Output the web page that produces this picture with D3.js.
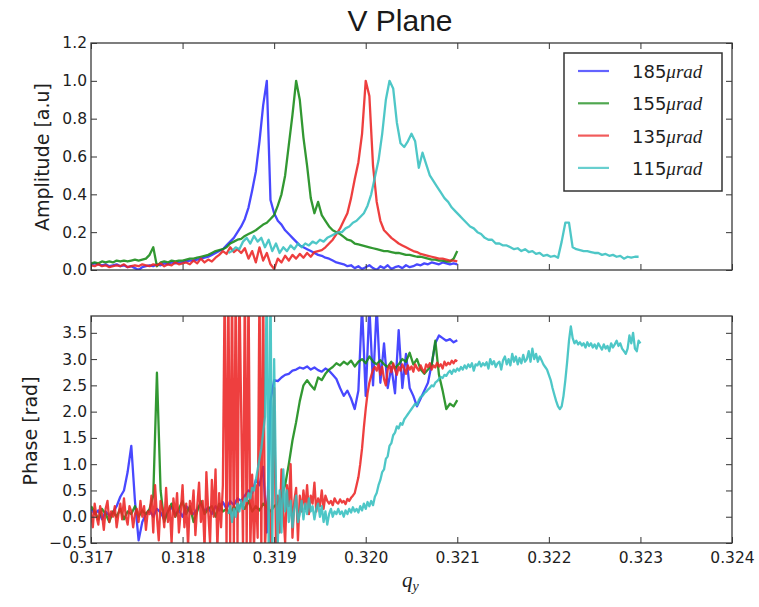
<!DOCTYPE html>
<html>
<head>
<meta charset="utf-8">
<script src="https://cdn.jsdelivr.net/npm/d3@7"></script>
<style>
  body { margin: 0; background: #fff; }
  svg { display: block; }
</style>
</head>
<body>
<svg id="chart" width="759" height="607"></svg>
<script>
// ---- data -------------------------------------------------------------
const seriesLabels = ["185", "155", "135", "115"];
const seriesColors = ["#2f2fff", "#168a16", "#ec2424", "#36bfbf"];

const xTicks = [0.317, 0.318, 0.319, 0.320, 0.321, 0.322, 0.323, 0.324];
const ampTicks = [0.0, 0.2, 0.4, 0.6, 0.8, 1.0, 1.2];
const phaseTicks = [-0.5, 0.0, 0.5, 1.0, 1.5, 2.0, 2.5, 3.0, 3.5];

// sampling of each trace along q_y: first sample and spacing
const ampStart = [0.317, 0.317, 0.317, 0.3185];
const ampStep = [0.00004, 0.00004, 0.00004, 0.00004];
const phaseStart = [0.317, 0.317, 0.317, 0.3185];
const phaseStep = [0.00004, 0.00004, 0.00002, 0.00002];

// amplitude [a.u]
const ampBlue = [
  0.03, 0.035, 0.03, 0.025, 0.03, 0.02, 0.025, 0.03, 0.02, 0.025, 0.015, 0.02, 0.01, 0.0, 0.015, 0.02, 0.025, 0.02, 0.03, 0.025, 0.035, 0.03, 0.04, 0.035, 0.04,
  0.04, 0.045, 0.05, 0.05, 0.055, 0.06, 0.065, 0.07, 0.08, 0.09, 0.1, 0.11, 0.13, 0.15, 0.17, 0.2, 0.23, 0.27, 0.33,
  0.42, 0.52, 0.68, 0.87, 1.0, 0.37, 0.3, 0.26, 0.24, 0.21, 0.19, 0.17, 0.15, 0.13, 0.12, 0.11, 0.1, 0.09, 0.08, 0.075, 0.065, 0.06, 0.05, 0.04, 0.035, 0.03, 0.02,
  0.025, 0.01, 0.02, 0.005, 0.015, 0.025, 0.01, 0.0, 0.02, 0.01, 0.025, 0.005, 0.015, 0.02, 0.01, 0.025, 0.015, 0.02, 0.03, 0.025, 0.035, 0.03, 0.04, 0.035, 0.03, 0.04, 0.035, 0.03, 0.035, 0.03
];
const ampGreen = [
  0.035, 0.04, 0.035, 0.045, 0.04, 0.045, 0.04, 0.05, 0.045, 0.05, 0.045, 0.05, 0.055, 0.05, 0.055, 0.06,
  0.08, 0.12, 0.02, 0.04, 0.045,
  0.04, 0.05, 0.045, 0.05, 0.05, 0.055, 0.06, 0.06, 0.065, 0.07, 0.075, 0.08, 0.09, 0.1, 0.105, 0.11, 0.12, 0.14, 0.15, 0.16, 0.165, 0.18, 0.19, 0.2, 0.21, 0.225, 0.24, 0.25, 0.27, 0.29,
  0.34, 0.40, 0.50, 0.66, 0.82, 1.0, 0.9, 0.7, 0.55, 0.38, 0.3, 0.36, 0.29, 0.26, 0.23, 0.21, 0.2, 0.19, 0.175,
  0.16, 0.155, 0.14, 0.135, 0.13, 0.125, 0.12, 0.115, 0.11, 0.105, 0.1, 0.1, 0.095, 0.09, 0.09, 0.085, 0.08, 0.08, 0.075, 0.07,
  0.07, 0.065, 0.06, 0.055, 0.055, 0.05, 0.05, 0.045, 0.045, 0.06, 0.1
];
const ampRed = [
  0.025, 0.02, 0.03, 0.02, 0.025, 0.015, 0.02, 0.025, 0.02, 0.03, 0.015, 0.02, 0.025, 0.02, 0.03, 0.025, 0.02, 0.03, 0.025, 0.035, 0.02, 0.03, 0.025, 0.04, 0.03, 0.035,
  0.04, 0.03, 0.05, 0.035, 0.06, 0.04, 0.055, 0.045, 0.065,
  0.08, 0.1, 0.085, 0.12, 0.095, 0.11, 0.09, 0.115,
  0.06, 0.1, 0.04, 0.12, 0.05, 0.09, 0.03,
  0.005, 0.06, 0.04, 0.075, 0.05, 0.08, 0.06, 0.085, 0.065, 0.09, 0.07, 0.095, 0.1, 0.105,
  0.12, 0.14, 0.16, 0.19, 0.22, 0.26, 0.3, 0.38, 0.48, 0.57, 0.72, 1.0, 0.92, 0.55, 0.36, 0.26, 0.21, 0.19, 0.17, 0.155,
  0.14, 0.13, 0.12, 0.11, 0.1, 0.095, 0.085, 0.08, 0.075, 0.07, 0.065, 0.06, 0.06, 0.055, 0.05, 0.05, 0.045
];
const ampCyan = [
  0.09, 0.1, 0.12, 0.11, 0.15, 0.17, 0.14, 0.18, 0.15, 0.17,
  0.12, 0.16, 0.1, 0.14, 0.09, 0.12, 0.1, 0.13, 0.11, 0.14,
  0.12, 0.14, 0.13, 0.15, 0.14, 0.16, 0.15, 0.17, 0.18, 0.19,
  0.2, 0.2, 0.22, 0.23, 0.25, 0.26, 0.28, 0.3, 0.34, 0.40,
  0.49, 0.58, 0.72, 0.9, 1.0, 0.96, 0.78, 0.67, 0.65, 0.68,
  0.72, 0.68, 0.54, 0.62, 0.56, 0.5, 0.47, 0.44, 0.41, 0.38,
  0.36, 0.33, 0.31, 0.29, 0.27, 0.25, 0.23, 0.22, 0.2, 0.19,
  0.17, 0.16, 0.16, 0.14, 0.14, 0.13, 0.13, 0.12, 0.11, 0.115,
  0.1, 0.11, 0.095, 0.1, 0.085, 0.09, 0.075, 0.08, 0.07, 0.075,
  0.065, 0.15, 0.25, 0.25, 0.12, 0.11, 0.105, 0.1, 0.1, 0.095,
  0.09, 0.09, 0.08, 0.085, 0.075, 0.08, 0.07, 0.075, 0.06, 0.07,
  0.065, 0.07, 0.07
];

// phase [rad]
const phaseBlue = [
  0.15, 0.05, 0.12, -0.05, 0.1, 0.02, 0.08, 0.2, 0.38, 0.5, 0.85,
  1.35, 0.3, -0.45, -0.1,
  0.05, 0.12, 0.0, 0.15, 0.08, -0.05, 0.1, 0.18, 0.05, 0.12, 0.0, 0.2, 0.1, 0.05, 0.15, 0.25, 0.1, 0.18, 0.05, 0.2, 0.12, 0.28, 0.15, 0.3, 0.22, 0.35,
  0.3, 0.4, 0.5, 0.45, 0.7, 0.6, 0.95, -0.3, 2.2,
  2.6, 2.58, 2.65, 2.7, 2.72, 2.78, 2.8, 2.84, 2.82, 2.86, 2.8, 2.84, 2.79, 2.76, 2.82, 2.78, 2.7, 2.62, 2.45, 2.3, 2.4, 2.25, 2.05, 2.4,
  4.0, 2.3, 4.0, 2.5, 4.0, 2.55, 3.3, 2.45, 2.85, 2.35, 3.55, 2.45, 3.1, 2.45, 2.3, 2.1, 2.25, 2.4, 2.55, 2.9, 3.3, 3.45, 3.4, 3.35, 3.38, 3.32, 3.36
];
const phaseGreen = [
  0.2, 0.1, -0.05, 0.15, 0.05, -0.1, 0.1, 0.0, 0.15, -0.05, 0.1, 0.05, 0.2, 0.0, 0.12, 0.05,
  0.15, 0.4, 2.74, 0.5, -0.1,
  0.1, 0.25, 0.0, 0.15, 0.3, 0.05, 0.2, -0.1, 0.1, 0.3, 0.05, 0.15, 0.2, 0.0, 0.25, 0.1, 0.15, 0.05, 0.2, 0.1, 0.25, 0.15, 0.3, 0.1, 0.2, 0.12, 0.25, 0.18, 0.1, 0.2,
  0.25, 0.4, 0.6, 1.0, 1.45, 1.8, 2.2, 2.5, 2.6, 2.5, 2.42, 2.65, 2.6, 2.72, 2.8, 2.85, 2.92, 2.88, 2.95, 2.9,
  2.97, 2.86, 2.95, 3.0, 2.92, 3.05, 2.95, 2.9, 2.98, 2.9, 2.85, 2.95, 2.82, 2.9, 3.0, 2.95, 3.12, 2.9, 3.0, 2.8,
  2.72, 2.8, 2.88, 3.35, 2.7, 2.4, 2.05, 2.15, 2.1, 2.22
];
const phaseRed = [
  0.1, -0.2, 0.25, 0.0, -0.15, 0.2, 0.05, -0.25, 0.15, 0.3, -0.1, 0.1, 0.0, 0.2, -0.2, 0.05, 0.25, -0.05, 0.35, 0.0, -0.15, 0.2, 0.1, -0.2, 0.05, 0.15, -0.1, 0.3, 0.0, 0.2, -0.25, 0.1, 0.05,
  0.4, -0.3, 0.6, 0.0, -0.45, 0.3, 0.15, -0.2, 0.55, -0.1, 0.2, -0.5, 0.35, 0.0, 0.45, -0.3, 0.1, 0.6, -0.2, 0.25, -0.55, 0.3, 0.05, 0.5, -0.35, 0.2, 0.65, -0.1,
  0.3, -0.6, 0.85, 0.1, -0.5, 0.7, 0.0, 0.9, -0.6, 0.45, -0.2, 0.6,
  4.5, -0.6, 4.5, -0.6, 4.5, -0.6, 4.5, -0.6, 4.5,
  2.0, -0.6,
  4.5, -0.6, 4.5, -0.6,
  0.8, -0.6, 0.6, -0.4,
  4.5, -0.6, 4.5, -0.6,
  0.2, 0.5, -0.5, 0.3,
  2.45, -0.6, 0.4,
  -0.3, 0.9, 0.1, -0.5, 0.6, 0.2, 1.0, -0.4, 0.3, 0.55, -0.45, 0.4, 0.1,
  0.5, 0.15, 0.6, 0.05, 0.4, 0.25, 0.65, 0.1, 0.35, 0.2, 0.5, 0.15, 0.4, 0.3, 0.25,
  0.3, 0.22, 0.35, 0.28, 0.25, 0.33, 0.27, 0.3, 0.24, 0.34, 0.3, 0.36, 0.4,
  0.45, 0.6, 0.75, 1.0, 1.3, 1.7, 2.05, 2.35, 2.55, 2.68, 2.8, 2.85,
  2.78, 2.9, 2.7, 2.85, 2.62, 2.5, 2.8, 2.88, 2.75, 2.92, 2.8, 2.7, 2.85, 2.78, 2.9, 2.82, 2.72, 2.88, 2.8, 2.86, 2.76, 2.9, 2.83,
  2.78, 2.88, 2.8, 2.74, 2.9, 2.85, 2.92, 2.8, 2.88, 2.84, 2.93, 2.86, 2.9, 2.82, 2.95, 2.88, 2.93, 2.9, 2.97, 2.92, 2.98, 2.96
];
const phaseCyan = [
  0.05, 0.2, -0.1, 0.15, 0.0, 0.25, 0.1, 0.3, 0.15, 0.35,
  0.3, 0.45, 0.35, 0.55, 0.5, 0.7, 0.9, 1.1, 1.3, 1.6,
  1.9, 4.5, -0.6, 4.5, -0.6, 3.0, 0.6, -0.5, 0.5, -0.3,
  0.9, 0.1, 0.5, -0.1, 0.3, -0.2, 0.15, 0.4, -0.1, 0.05,
  0.3, -0.05, 0.25, 0.05, 0.35, 0.1, 0.2, -0.05, 0.15, 0.25,
  0.0, 0.2, -0.1, 0.1, -0.15, 0.05, 0.15, 0.0, 0.1, 0.05,
  0.15, 0.05, 0.1, 0.0, 0.12, 0.05, 0.15, 0.08, 0.18, 0.1,
  0.15, 0.08, 0.2, 0.12, 0.25, 0.15, 0.28, 0.2, 0.3, 0.22,
  0.38, 0.45, 0.6, 0.7, 0.85, 0.9, 1.1, 1.15, 1.35, 1.4,
  1.55, 1.6, 1.72, 1.68, 1.78, 1.75, 1.85, 1.9, 1.95, 2.0,
  2.05, 2.1, 2.15, 2.12, 2.22, 2.28, 2.3, 2.35, 2.38, 2.42,
  2.45, 2.5, 2.48, 2.55, 2.58, 2.62, 2.66, 2.64, 2.7, 2.68,
  2.74, 2.78, 2.72, 2.8, 2.76, 2.82, 2.78, 2.85, 2.8, 2.88,
  2.82, 2.9, 2.85, 2.92, 2.78, 2.9, 2.88, 2.95, 2.86, 2.92,
  2.88, 2.94, 2.82, 3.0, 2.9, 2.96, 2.85, 2.92, 2.95, 2.8,
  2.98, 3.05, 2.9, 3.0, 2.88, 3.1, 2.95, 3.05, 2.9, 3.02,
  2.92, 3.08, 2.95, 3.0, 3.15, 2.95, 3.2, 3.0, 3.1, 2.95,
  3.05, 2.98, 2.9, 2.85, 2.8, 2.7, 2.6, 2.45, 2.32, 2.2,
  2.1, 2.05, 2.1, 2.3, 2.6, 2.95, 3.35, 3.62, 3.4, 3.3,
  3.35, 3.28, 3.32, 3.26, 3.3, 3.22, 3.32, 3.25, 3.3, 3.22,
  3.28, 3.2, 3.3, 3.24, 3.18, 3.28, 3.2, 3.25, 3.15, 3.3,
  3.22, 3.28, 3.35, 3.25, 3.3, 3.2, 3.15, 3.1, 3.2, 3.45,
  3.3, 3.5, 3.2, 3.15, 3.35, 3.3
];

const ampValues = [ampBlue, ampGreen, ampRed, ampCyan];
const phaseValues = [phaseBlue, phaseGreen, phaseRed, phaseCyan];

// ---- layout -----------------------------------------------------------
const left = 91, right = 732;
const top1 = 43, bottom1 = 270;
const top2 = 316, bottom2 = 543;
const tickLen = 6;

const svg = d3.select("#chart");
const x = d3.scaleLinear().domain([0.317, 0.324]).range([left, right]);
const yAmp = d3.scaleLinear().domain([0, 1.2]).range([bottom1, top1]);
const yPhase = d3.scaleLinear().domain([-0.5, 3.82]).range([bottom2, top2]);

const toPoints = (vals, start, step) => vals.map((v, i) => [start + i * step, v]);

function drawPanel(id, y, yTicks, top, bottom, series, starts, steps, showX) {
  const defs = svg.append("defs");
  defs.append("clipPath").attr("id", id)
    .append("rect").attr("x", left).attr("y", top)
    .attr("width", right - left).attr("height", bottom - top);

  const line = d3.line().x(d => x(d[0])).y(d => y(d[1]));
  const g = svg.append("g").attr("clip-path", `url(#${id})`);
  series.forEach((vals, s) => {
    g.append("path")
      .datum(toPoints(vals, starts[s], steps[s]))
      .attr("d", line)
      .attr("fill", "none")
      .attr("stroke", seriesColors[s])
      .attr("stroke-width", 2.3)
      .attr("stroke-linejoin", "round")
      .attr("stroke-opacity", 0.88);
  });

  const styleAxis = sel => {
    sel.select(".domain").remove();
    sel.selectAll(".tick line").attr("stroke", "#333").attr("stroke-width", 1);
    sel.selectAll(".tick text")
      .attr("fill", "#1e1e1e")
      .style("font-family", "'DejaVu Sans', sans-serif")
      .style("font-size", "15.5px");
  };

  svg.append("g").attr("transform", `translate(${left},0)`)
    .call(d3.axisLeft(y).tickValues(yTicks).tickFormat(d3.format(".1f"))
      .tickSizeInner(-tickLen).tickSizeOuter(0).tickPadding(4))
    .call(styleAxis);
  svg.append("g").attr("transform", `translate(${right},0)`)
    .call(d3.axisRight(y).tickValues(yTicks).tickFormat("")
      .tickSizeInner(-tickLen).tickSizeOuter(0))
    .call(styleAxis);
  svg.append("g").attr("transform", `translate(0,${top})`)
    .call(d3.axisTop(x).tickValues(xTicks).tickFormat("")
      .tickSizeInner(-tickLen).tickSizeOuter(0))
    .call(styleAxis);
  svg.append("g").attr("transform", `translate(0,${bottom})`)
    .call(d3.axisBottom(x).tickValues(xTicks)
      .tickFormat(showX ? d3.format(".3f") : "")
      .tickSizeInner(-tickLen).tickSizeOuter(0).tickPadding(9))
    .call(styleAxis);

  svg.append("rect")
    .attr("x", left).attr("y", top)
    .attr("width", right - left).attr("height", bottom - top)
    .attr("fill", "none").attr("stroke", "#3a3a3a").attr("stroke-width", 1.3);
}

drawPanel("clip-amp", yAmp, ampTicks, top1, bottom1, ampValues, ampStart, ampStep, false);
drawPanel("clip-phase", yPhase, phaseTicks, top2, bottom2, phaseValues, phaseStart, phaseStep, true);

// ---- title and axis labels -------------------------------------------
svg.append("text")
  .attr("x", 400).attr("y", 31)
  .attr("text-anchor", "middle")
  .attr("fill", "#1a1a1a")
  .style("font-family", "'Liberation Sans', Arial, sans-serif")
  .style("font-size", "30px")
  .text("V Plane");

svg.append("text")
  .attr("transform", "translate(49,157) rotate(-90)")
  .attr("text-anchor", "middle")
  .attr("fill", "#1e1e1e")
  .style("font-family", "'DejaVu Sans', sans-serif")
  .style("font-size", "19px")
  .text("Amplitude [a.u]");

svg.append("text")
  .attr("transform", "translate(37,431) rotate(-90)")
  .attr("text-anchor", "middle")
  .attr("fill", "#1e1e1e")
  .style("font-family", "'DejaVu Sans', sans-serif")
  .style("font-size", "19px")
  .text("Phase [rad]");

const xl = svg.append("text")
  .attr("x", 402).attr("y", 587)
  .attr("fill", "#1e1e1e")
  .style("font-family", "'Liberation Serif', 'DejaVu Serif', serif")
  .style("font-style", "italic");
xl.append("tspan").style("font-size", "21px").text("q");
xl.append("tspan").attr("dy", 4).style("font-size", "14px").text("y");

// ---- legend -----------------------------------------------------------
const legend = svg.append("g");
legend.append("rect")
  .attr("x", 564).attr("y", 53).attr("width", 158).attr("height", 138)
  .attr("fill", "#fff").attr("stroke", "#333").attr("stroke-width", 1.5);

seriesLabels.forEach((lab, s) => {
  const cy = 71 + s * 32.3;
  legend.append("line")
    .attr("x1", 578).attr("x2", 609).attr("y1", cy).attr("y2", cy)
    .attr("stroke", seriesColors[s]).attr("stroke-width", 2.2).attr("stroke-opacity", 0.75);
  const t = legend.append("text")
    .attr("x", 632).attr("y", cy + 7)
    .attr("fill", "#1e1e1e")
    .style("font-family", "'DejaVu Sans', sans-serif")
    .style("font-size", "18px");
  t.append("tspan").text(lab);
  t.append("tspan")
    .style("font-family", "'Liberation Serif', 'DejaVu Serif', serif")
    .style("font-style", "italic")
    .style("font-size", "19px")
    .text("\u03bcrad");
});
</script>
</body>
</html>
